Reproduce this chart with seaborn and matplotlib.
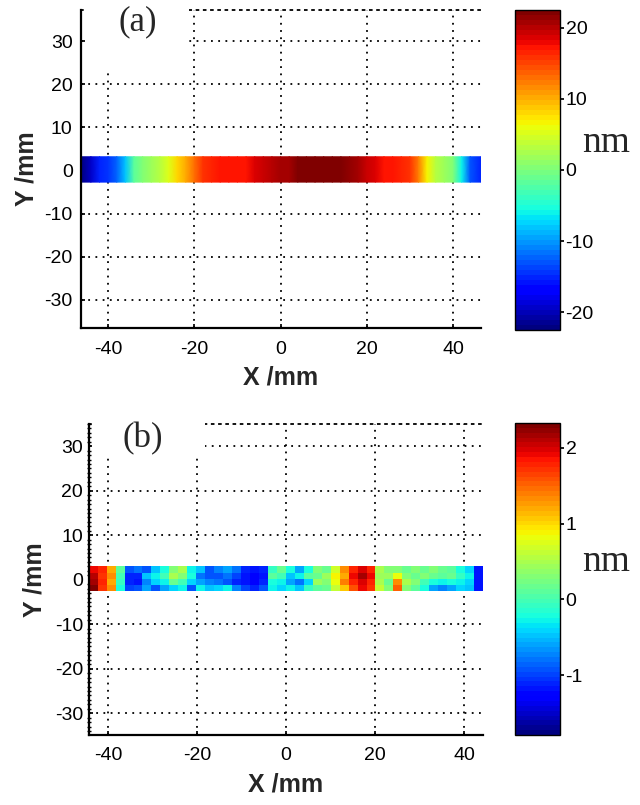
import numpy as np
import matplotlib
matplotlib.use("Agg")
import matplotlib as mpl
import matplotlib.pyplot as plt
import seaborn as sns
from matplotlib.patches import Rectangle
from matplotlib.ticker import MultipleLocator

# ---------------- data ----------------
# Panel (a): height profile along X (nm), strip is uniform in Y
a_x = [-46.3, -44, -42, -40, -38, -36, -34, -32, -30, -28, -26, -24, -22, -20,
       -18, -16, -14, -12, -10, -8, -6, -4, -2, 0, 2, 4, 6, 8, 10, 12, 14, 16,
       18, 20, 22, 24, 26, 28, 30, 32, 34, 36, 38, 40, 42, 44, 46.5]
a_nm = [-22, -19, -15, -14.5, -12.5, -8, -2, 0.5, 1.5, 3, 5, 8, 10, 13,
        15.5, 16.5, 17, 17, 17.2, 17.5, 18.5, 19.5, 20, 20.5, 21, 21.8, 22, 22.2, 22.2, 22, 22, 21.5,
        21, 19.5, 18.5, 17.5, 17, 16.5, 16, 12, 7, 3, 1.5, 0, -6, -13, -15]
a_strip_y = [-2.7, 3.2]

# Panel (b): residual map (nm), 4 rows (top -> bottom) x 44 columns
b_x_edges = np.linspace(-44.3, 44.2, 45)
b_y_edges = [3.0, 1.6, 0.2, -1.2, -2.6]
b_row1 = [1.9, 1.8, 1.2, 0.1, -0.9, -0.8, -0.9, -0.5, -0.2, 0.3, 0.5, -0.3, -0.5, -0.9, -0.7,
          -0.6, -0.8, -1.1, -1.2, -1.1, -0.1, 0.2, -0.2, -0.6, -0.2, 0.3, 0.2, 0.7, 1.3, 1.8,
          2.0, 1.8, 0.5, 0.3, 0.3, 0.2, 0.3, 0.2, 0.3, 0.2, 0.1, -0.2, -0.4, -1.2]
b_row2 = [2.1, 1.7, 1.3, 0.0, -1.1, -1.1, -0.5, -0.3, 0.0, 0.5, 0.3, -0.2, -0.8, -0.9, -0.9,
          -0.8, -1.0, -1.2, -1.3, -1.2, 0.1, 0.0, -0.5, -0.3, 0.1, 0.2, 0.4, 0.9, 1.2, 1.9,
          2.15, 1.9, 0.4, 0.4, 0.8, 0.3, 0.2, 0.3, 0.2, 0.1, 0.2, -0.1, -0.3, -1.2]
b_row3 = [2.2, 1.8, 1.2, -0.1, -1.1, -1.2, -0.7, -0.4, -0.3, 0.2, 0.0, -0.4, -0.6, -0.7, -0.8,
          -0.9, -1.1, -1.2, -1.3, -1.1, -0.2, -0.3, -0.6, -0.8, -0.4, 0.4, 0.3, 0.8, 1.4, 1.8,
          2.0, 1.8, 0.5, 0.2, 1.3, 0.5, 0.3, 0.0, -0.2, -0.3, -0.2, -0.3, -0.4, -1.2]
b_row4 = [2.3, 1.7, 1.3, -0.2, -1.0, -0.9, -0.6, -0.9, -0.6, -0.4, -0.3, -0.9, -0.3, -0.5, -0.4,
          -0.3, -0.7, -1.0, -1.1, -0.9, -0.3, -0.4, -0.3, -0.5, -0.1, 0.1, 0.2, 0.6, 1.1, 1.6,
          1.9, 1.7, 0.6, 0.3, 1.5, 0.3, 0.1, -0.2, -0.6, -0.7, -0.6, -0.4, -0.5, -1.2]

xticks = [-40, -20, 0, 20, 40]
yticks = [-30, -20, -10, 0, 10, 20, 30]
cbar_a_ticks = [-20, -10, 0, 10, 20]
cbar_b_ticks = [-1, 0, 1, 2]
a_clim = (-22.5, 22.5)
b_clim = (-1.79, 2.33)

# ---------------- style ----------------
sns.set_theme(style="white")
plt.rcParams["font.family"] = ["Liberation Sans", "DejaVu Sans"]
plt.rcParams["axes.unicode_minus"] = False
cmap = mpl.colormaps["jet"].resampled(64)
dotted = (0, (1, 3))
SERIF = ["Liberation Serif", "DejaVu Serif"]
TICK_FS = 14

fig = plt.figure(figsize=(6.4, 8.05), dpi=100)
W, H = 640.0, 805.0


def px_axes(l, t, r, b):
    return fig.add_axes([l / W, 1 - b / H, (r - l) / W, (b - t) / H])


def style_axes(ax, xlim, ylim, box, label, label_xy, ypad, xpad, ylabelpad):
    ax.set_xlim(*xlim)
    ax.set_ylim(*ylim)
    ax.set_xticks(xticks)
    ax.set_yticks(yticks)
    ax.set_axisbelow(True)
    ax.grid(True, color="black", linestyle=dotted, linewidth=1.3)
    for s in ("left", "bottom"):
        ax.spines[s].set_color("black")
        ax.spines[s].set_linewidth(1.6)
    ax.spines["right"].set_visible(False)
    ax.spines["top"].set_color("black")
    ax.spines["top"].set_linestyle(dotted)
    ax.spines["top"].set_linewidth(1.3)
    ax.tick_params(axis="both", which="major", direction="in", length=3,
                   labelsize=TICK_FS, colors="black", left=True, bottom=True)
    ax.tick_params(axis="y", pad=ypad)
    ax.tick_params(axis="x", pad=xpad)
    ax.set_xlabel("X /mm", fontsize=18, fontweight="bold", labelpad=6)
    ax.set_ylabel("Y /mm", fontsize=18, fontweight="bold", labelpad=ylabelpad)
    ax.add_patch(Rectangle((box[0], box[1]), box[2], box[3], transform=ax.transAxes,
                           facecolor="white", edgecolor="none", zorder=3, clip_on=False))
    ax.text(label_xy[0], label_xy[1], label, transform=ax.transAxes, family=SERIF,
            fontsize=25, ha="center", va="center", zorder=4)


def style_cbar(cax, cb, ticks):
    cb.set_ticks(ticks)
    cb.outline.set_edgecolor("black")
    cb.outline.set_linewidth(1.0)
    cax.tick_params(axis="y", direction="out", length=3, labelsize=TICK_FS, colors="black",
                    right=True, pad=1)


# ---------------- panel (a) ----------------
ax_a = px_axes(81, 10, 481, 328)
X_a, Y_a = np.meshgrid(a_x, a_strip_y)
C_a = np.vstack([a_nm, a_nm])
mesh_a = ax_a.pcolormesh(X_a, Y_a, C_a, shading="gouraud", cmap=cmap,
                         vmin=a_clim[0], vmax=a_clim[1], zorder=1)
style_axes(ax_a, (-46.3, 46.5), (-36.6, 37.3), (0.015, 0.81, 0.255, 0.2), "(a)",
           (0.141, 0.962), 6, 9, 4)

cax_a = px_axes(515, 10, 560, 330)
cb_a = fig.colorbar(mesh_a, cax=cax_a)
style_cbar(cax_a, cb_a, cbar_a_ticks)
fig.text(606 / W, 1 - 143 / H, "nm", family=SERIF, fontsize=27, ha="center", va="center")

# ---------------- panel (b) ----------------
ax_b = px_axes(88.7, 424, 483, 735)
C_b = np.array([b_row1, b_row2, b_row3, b_row4])
mesh_b = ax_b.pcolormesh(b_x_edges, b_y_edges, C_b, shading="flat", cmap=cmap,
                         vmin=b_clim[0], vmax=b_clim[1], zorder=1)
style_axes(ax_b, (-44.3, 44.2), (-34.9, 35.0), (0.008, 0.89, 0.287, 0.12), "(b)",
           (0.136, 0.954), 4, 9, 6)
ax_b.yaxis.set_minor_locator(MultipleLocator(1))
ax_b.tick_params(axis="y", which="minor", direction="inout", length=3, width=1,
                 left=True, colors="black")

cax_b = px_axes(515, 423, 560, 735)
cb_b = fig.colorbar(mesh_b, cax=cax_b)
style_cbar(cax_b, cb_b, cbar_b_ticks)
fig.text(606 / W, 1 - 562 / H, "nm", family=SERIF, fontsize=27, ha="center", va="center")

fig.savefig("out.png", dpi=100)
